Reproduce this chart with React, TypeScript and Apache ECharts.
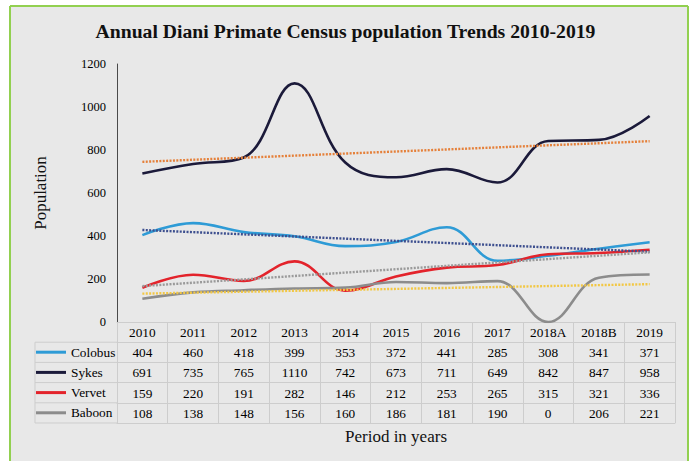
import React, { useEffect, useRef } from "react";
import * as echarts from "echarts";

const TITLE = "Annual Diani Primate Census population Trends 2010-2019";
const X_NAME = "Period in years";
const Y_NAME = "Population";
const YEARS = ["2010", "2011", "2012", "2013", "2014", "2015", "2016", "2017", "2018A", "2018B", "2019"];
const SPECIES = ["Colobus", "Sykes", "Vervet", "Baboon"];
const COLOBUS = [404, 460, 418, 399, 353, 372, 441, 285, 308, 341, 371];
const SYKES = [691, 735, 765, 1110, 742, 673, 711, 649, 842, 847, 958];
const VERVET = [159, 220, 191, 282, 146, 212, 253, 265, 315, 321, 336];
const BABOON = [108, 138, 148, 156, 160, 186, 181, 190, 0, 206, 221];
// linear trendline end points (at 2010 and 2019)
const TREND_COLOBUS = [428, 327];
const TREND_SYKES = [745, 841];
const TREND_VERVET = [167, 324];
const TREND_BABOON = [132, 176];
const Y_MIN = 0;
const Y_MAX = 1200;
const Y_STEP = 200;

const FONT = "'Liberation Serif', 'Times New Roman', Times, serif";
const W = 691;
const H = 461;
const GRID_LEFT = 117;
const GRID_RIGHT = 16;
const GRID_TOP = 64;
const GRID_BOTTOM = 139;
const ROW_H = 20.2;
const TABLE_LEFT = 35;
const LINE_COLOR = "#cdcdcd";

const COLORS = ["#2e9bd6", "#1b1a3a", "#e3232b", "#8c8c8c"];
const TREND_COLORS = ["#3d4f8f", "#e5803a", "#9a9a9a", "#f2c744"];

export default function App() {
  const ref = useRef<HTMLDivElement>(null);

  useEffect(() => {
    document.body.style.margin = "0";
    if (!ref.current) return;
    const chart = echarts.init(ref.current, undefined, { renderer: "svg" });

    const seriesValues = [COLOBUS, SYKES, VERVET, BABOON];
    const trends = [TREND_COLOBUS, TREND_SYKES, TREND_VERVET, TREND_BABOON];
    const trendData = (t: number[]) =>
      YEARS.map((_, i) => (i === 0 ? t[0] : i === YEARS.length - 1 ? t[1] : null));

    const tableFont = { fontFamily: FONT, fontSize: 13.3, color: "#000" };
    const tableBottom = H - GRID_BOTTOM;

    const rowAxes = seriesValues.map((vals, k) => ({
      type: "category",
      data: vals.map(String),
      position: "bottom",
      offset: ROW_H * (k + 1),
      boundaryGap: true,
      axisLine: { show: true, onZero: false, lineStyle: { color: LINE_COLOR } },
      axisTick: { show: false },
      axisLabel: { ...tableFont, margin: 4, interval: 0 },
      splitLine: { show: false },
    }));

    const leftLines: any[] = [];
    for (let k = 1; k <= 5; k++) {
      const y = tableBottom + ROW_H * k;
      leftLines.push({
        type: "line",
        shape: { x1: TABLE_LEFT, y1: y, x2: GRID_LEFT, y2: y },
        style: { stroke: LINE_COLOR, lineWidth: 1 },
      });
    }
    leftLines.push({
      type: "line",
      shape: { x1: TABLE_LEFT, y1: tableBottom + ROW_H, x2: TABLE_LEFT, y2: tableBottom + ROW_H * 5 },
      style: { stroke: LINE_COLOR, lineWidth: 1 },
    });

    const option: any = {
      animation: false,
      backgroundColor: "#e8e8e8",
      title: {
        text: TITLE,
        left: "center",
        top: 21,
        padding: 0,
        textStyle: { fontFamily: FONT, fontWeight: "bold", fontSize: 19.7, color: "#111" },
      },
      legend: {
        data: SPECIES,
        orient: "vertical",
        left: 36,
        top: tableBottom + ROW_H,
        padding: 0,
        itemWidth: 30,
        itemHeight: 3,
        itemGap: 0.2,
        icon: "rect",
        selectedMode: false,
        textStyle: { fontFamily: FONT, fontSize: 13.3, color: "#000", lineHeight: 20 },
      },
      grid: { left: GRID_LEFT, right: GRID_RIGHT, top: GRID_TOP, bottom: GRID_BOTTOM, containLabel: false },
      xAxis: [
        {
          type: "category",
          data: YEARS,
          position: "bottom",
          boundaryGap: true,
          axisLine: { show: true, onZero: false, lineStyle: { color: LINE_COLOR } },
          axisTick: { show: true, interval: 0, alignWithLabel: false, length: ROW_H * 5, lineStyle: { color: LINE_COLOR } },
          axisLabel: { ...tableFont, margin: 4, interval: 0 },
          splitLine: { show: false },
        },
        ...rowAxes,
        {
          type: "category",
          data: YEARS,
          position: "bottom",
          offset: ROW_H * 5,
          boundaryGap: true,
          axisLine: { show: true, onZero: false, lineStyle: { color: LINE_COLOR } },
          axisTick: { show: false },
          axisLabel: { show: false },
          splitLine: { show: false },
          name: X_NAME,
          nameLocation: "middle",
          nameGap: 5,
          nameTextStyle: { fontFamily: FONT, fontSize: 17, color: "#111" },
        },
      ],
      yAxis: {
        type: "value",
        min: Y_MIN,
        max: Y_MAX,
        interval: Y_STEP,
        axisLine: { show: true, lineStyle: { color: "#4a4a4a" } },
        axisTick: { show: false },
        splitLine: { show: false },
        axisLabel: {
          fontFamily: FONT,
          fontSize: 12.5,
          color: "#000",
          margin: 11,
          formatter: (v: number) => String(v),
        },
        name: Y_NAME,
        nameLocation: "middle",
        nameGap: 68,
        nameTextStyle: { fontFamily: FONT, fontSize: 17, color: "#111" },
      },
      series: [
        ...SPECIES.map((name, i) => ({
          name,
          type: "line",
          data: seriesValues[i],
          smooth: 0.4,
          symbol: "none",
          silent: true,
          color: COLORS[i],
          lineStyle: { color: COLORS[i], width: 2.6 },
          z: 2,
        })),
        ...SPECIES.map((name, i) => ({
          name: name + " trend",
          type: "line",
          data: trendData(trends[i]),
          connectNulls: true,
          symbol: "none",
          silent: true,
          color: TREND_COLORS[i],
          lineStyle: { color: TREND_COLORS[i], width: 2.4, type: [2, 1.4] },
          z: 3,
        })),
      ],
      graphic: [
        { type: "rect", shape: { x: 0, y: 0, width: W, height: 6 }, style: { fill: "#ffffff" }, silent: true },
        { type: "rect", shape: { x: 0, y: 0, width: 10, height: H }, style: { fill: "#ffffff" }, silent: true },
        { type: "rect", shape: { x: 688, y: 0, width: W - 688, height: H }, style: { fill: "#ffffff" }, silent: true },
        { type: "line", shape: { x1: 10, y1: 6, x2: 688, y2: 6 }, style: { stroke: "#92d050", lineWidth: 2 }, silent: true },
        { type: "line", shape: { x1: 10, y1: 6, x2: 10, y2: H }, style: { stroke: "#92d050", lineWidth: 2 }, silent: true },
        { type: "line", shape: { x1: 688, y1: 6, x2: 688, y2: H }, style: { stroke: "#92d050", lineWidth: 2 }, silent: true },
        ...leftLines,
      ],
    };

    chart.setOption(option);
    return () => chart.dispose();
  }, []);

  return <div ref={ref} style={{ width: W, height: H }} />;
}
